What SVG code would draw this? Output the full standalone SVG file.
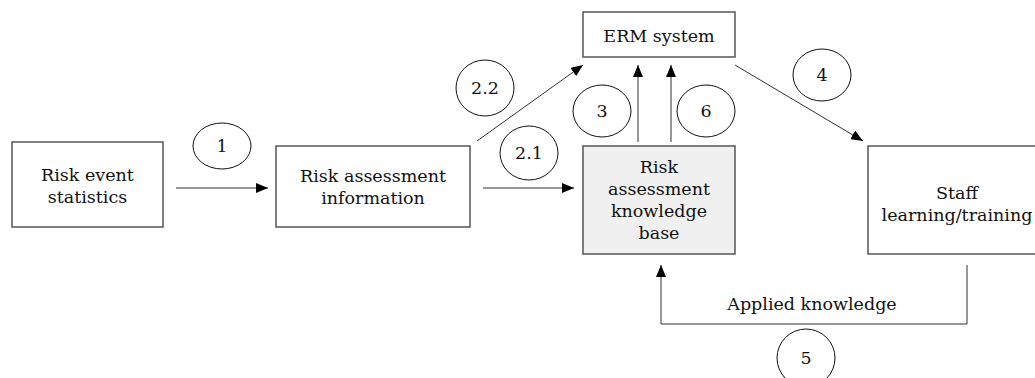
<svg xmlns="http://www.w3.org/2000/svg" width="1035" height="378" viewBox="0 0 1035 378">
<style>
.box{fill:#fff;stroke:#555;stroke-width:1.5}
.kb{fill:#f0f0f0;stroke:#555;stroke-width:1.5}
.t{font-family:"DejaVu Serif","Liberation Serif",serif;font-size:17.5px;fill:#111;text-anchor:middle}
.c{fill:#fff;stroke:#111;stroke-width:1}
.ln{fill:none;stroke:#333;stroke-width:1}
</style>
<defs>
<marker id="ah" viewBox="0 0 12 10" refX="12" refY="5" markerWidth="12" markerHeight="10" markerUnits="userSpaceOnUse" orient="auto">
<path d="M0,0 L12,5 L0,10 z" fill="#000"/>
</marker>
</defs>
<g id="connectors">
<line class="ln" x1="176" y1="188" x2="268" y2="188" marker-end="url(#ah)"/>
<line class="ln" x1="483" y1="188" x2="574" y2="188" marker-end="url(#ah)"/>
<line class="ln" x1="477" y1="141" x2="583" y2="65" marker-end="url(#ah)"/>
<line class="ln" x1="638" y1="142" x2="638" y2="65" marker-end="url(#ah)"/>
<line class="ln" x1="671" y1="142" x2="671" y2="65" marker-end="url(#ah)"/>
<line class="ln" x1="735" y1="65" x2="863" y2="141" marker-end="url(#ah)"/>
<polyline class="ln" points="967,265 967,324 661,324 661,265" marker-end="url(#ah)"/>
<text class="t" x="812" y="310">Applied knowledge</text>
<ellipse class="c" cx="222" cy="146" rx="29" ry="23"/>
<text class="t" x="222" y="152">1</text>
<ellipse class="c" cx="529" cy="153" rx="29" ry="27"/>
<text class="t" x="529" y="159">2.1</text>
<ellipse class="c" cx="485" cy="88" rx="29" ry="28"/>
<text class="t" x="485" y="94">2.2</text>
<ellipse class="c" cx="602" cy="111" rx="29" ry="26"/>
<text class="t" x="602" y="117">3</text>
<ellipse class="c" cx="706" cy="111" rx="29" ry="26"/>
<text class="t" x="706" y="117">6</text>
<ellipse class="c" cx="822" cy="75" rx="29" ry="26"/>
<text class="t" x="822" y="81">4</text>
<ellipse class="c" cx="806" cy="358" rx="29" ry="29"/>
<text class="t" x="806" y="364">5</text>
</g>
<g id="risk-event-statistics">
<rect class="box" x="12" y="142" width="151" height="85"/>
<text class="t" x="87.5" y="181">Risk event</text>
<text class="t" x="87.5" y="203">statistics</text>
</g>
<g id="risk-assessment-information">
<rect class="box" x="276" y="146" width="194" height="81"/>
<text class="t" x="373" y="182">Risk assessment</text>
<text class="t" x="373" y="204">information</text>
</g>
<g id="erm-system">
<rect class="box" x="583" y="12" width="152" height="45"/>
<text class="t" x="659" y="42">ERM system</text>
</g>
<g id="knowledge-base">
<rect class="kb" x="583" y="146" width="152" height="108"/>
<text class="t" x="659" y="173">Risk</text>
<text class="t" x="659" y="195">assessment</text>
<text class="t" x="659" y="217">knowledge</text>
<text class="t" x="659" y="239">base</text>
</g>
<g id="staff-learning">
<rect class="box" x="868" y="146" width="178" height="108"/>
<text class="t" x="957" y="199">Staff</text>
<text class="t" x="957" y="221">learning/training</text>
</g>
</svg>
